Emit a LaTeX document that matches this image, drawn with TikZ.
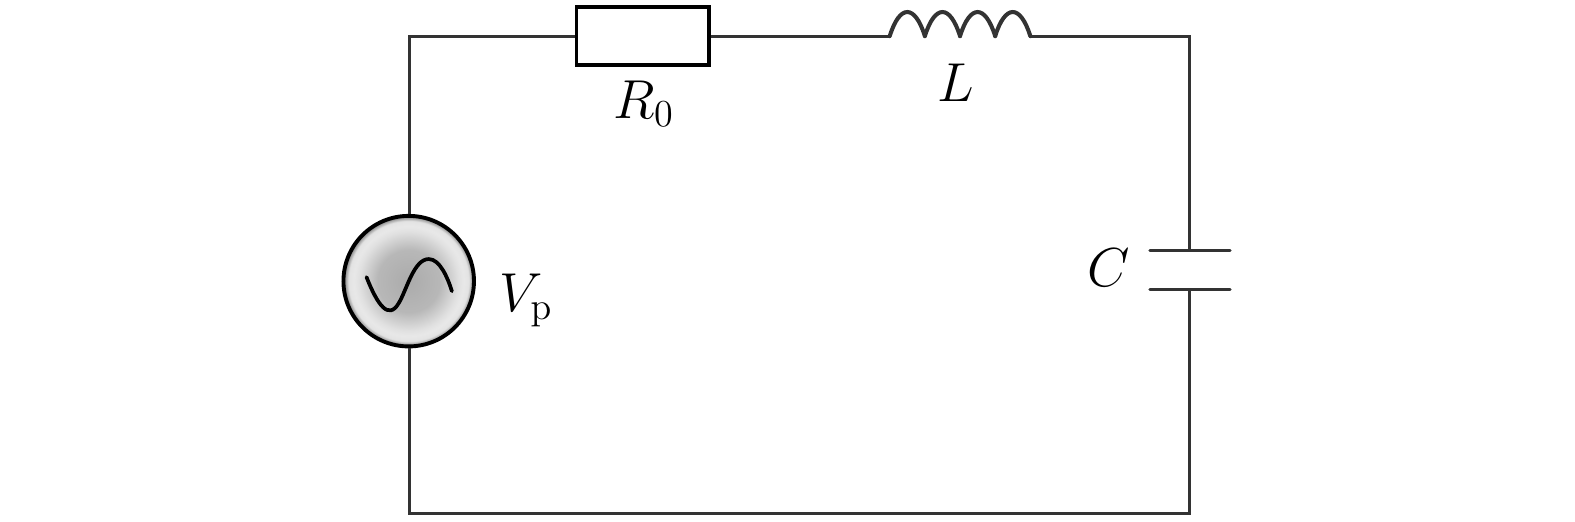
\documentclass[tikz,border=0pt]{standalone}
\usepackage{amsmath}
\usetikzlibrary{calc}
\definecolor{wirecol}{HTML}{333333}
\pgfdeclareradialshading{srcglow}{\pgfpoint{0bp}{0bp}}{%
	color(0bp)=(black!33);
	color(12bp)=(black!28);
	color(19bp)=(black!12);
	color(21bp)=(black!9);
	color(23bp)=(black!11);
	color(25bp)=(black!55)}
\tikzset{
	wire/.style={line width=0.85pt,wirecol},
	resbox/.style={draw=black,line width=1pt,fill=white,minimum width=1.32cm,minimum height=0.58cm,inner sep=0pt},
	srccirc/.style={circle,draw=black,line width=1.1pt,minimum size=1.3cm,inner sep=0pt,shading=srcglow},
	plate/.style={line width=0.85pt,wirecol,line cap=round},
	lbl/.style={font=\LARGE,scale=0.9,inner sep=0pt}
}

\begin{document}
\begin{tikzpicture}
		\useasboundingbox (0,0.022) rectangle (15.684,5.22);
		% corners
		\coordinate (TL) at (4.08,4.86);
		\coordinate (TR) at (11.85,4.86);
		\coordinate (BL) at (4.08,0.11);
		\coordinate (BR) at (11.85,0.11);
		% parts
		\node[srccirc] (Vs) at (4.07,2.42) {};
		\node[resbox] (R0) at (6.40,4.86) {};
		\coordinate (LA) at (8.86,4.86);
		\coordinate (LB) at (10.26,4.86);
		\coordinate (CA) at (11.85,2.73);
		\coordinate (CB) at (11.85,2.34);
		% wires
		\draw[wire] (Vs.north -| TL) -- (TL) -- (R0.west);
		\draw[wire] (R0.east) -- (LA);
		\draw[wire] (LB) -- (TR) -- (CA);
		\draw[wire] (CB) -- (BR) -- (BL) -- (Vs.south -| BL);
		% coil
		\foreach \k in {0,1,2,3}
			\draw[wire,line width=1.15pt,line cap=round] ($(LA)+(\k*0.35,0)$) .. controls +(0.10,0.32) and +(-0.10,0.32) .. +(0.35,0);
		% plates
		\draw[plate] ($(CA)+(-0.40,0)$) -- ($(CA)+(0.40,0)$);
		\draw[plate] ($(CB)+(-0.40,0)$) -- ($(CB)+(0.40,0)$);
		% sine
		\draw[line width=1.05pt,black,line cap=round] (3.65,2.46) .. controls (3.76,2.18) and (3.87,2.03) .. (3.97,2.20) .. controls (4.05,2.33) and (4.12,2.64) .. (4.27,2.64) .. controls (4.38,2.64) and (4.46,2.45) .. (4.50,2.32);
		% labels
		\node[lbl] (R0lbl) at (6.41,4.19) {$R_0$};
		\node[lbl] (Llbl) at (9.52,4.40) {$L$};
		\node[lbl] (Clbl) at (11.04,2.55) {$C$};
		\node[lbl] (Vlbl) at (5.24,2.23) {$V_{\mathrm{p}}$};
	\end{tikzpicture}
\end{document}
